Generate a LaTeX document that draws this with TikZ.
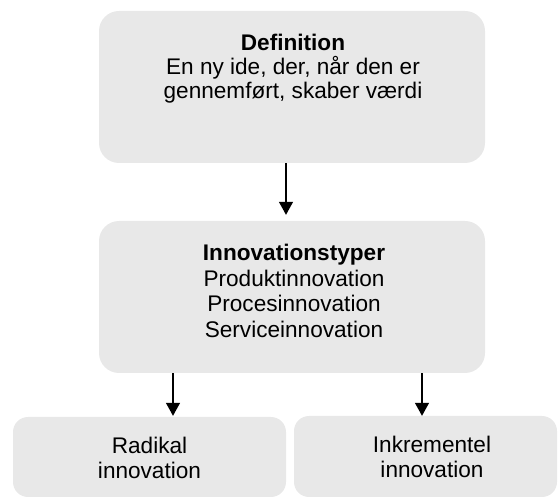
\documentclass[tikz,border=0pt]{standalone}
\usepackage{fontspec}
\setmainfont{Liberation Sans}
\usetikzlibrary{arrows.meta}
\definecolor{boxgray}{HTML}{E8E8E8}
\tikzset{
  panel/.style={fill=boxgray, draw=none, rounded corners=20pt, inner sep=0pt},
  smallpanel/.style={panel, rounded corners=15pt},
  label text/.style={align=center, inner sep=0pt, anchor=north},
  flow/.style={line width=1.3pt, -{Triangle[width=14pt,length=13pt]}}
}
\begin{document}
\begin{tikzpicture}[x=1pt, y=-1pt]
\useasboundingbox (0,0) rectangle (558,497);
\begin{scope}
\clip (0,0) rectangle (558,497);
% boxes
\node[panel, minimum width=386pt, minimum height=152pt] (def) at (292,87) {};
\node[panel, minimum width=386pt, minimum height=152pt] (types) at (292,297) {};
\node[smallpanel, minimum width=273pt, minimum height=80pt] (rad) at (149.5,457) {};
\node[smallpanel, minimum width=263pt, minimum height=81pt] (ink) at (425.5,456.5) {};
\end{scope}
% texts
\node[label text, font=\fontsize{22.6}{24}\selectfont] (deftext) at (293,34)
  {\textbf{Definition}\\En ny ide, der, når den er\\gennemført, skaber værdi};
\node[label text, font=\fontsize{22.6}{25.7}\selectfont] (typestext) at (294,244)
  {\textbf{Innovationstyper}\\Produktinnovation\\Procesinnovation\\Serviceinnovation};
\node[label text, font=\fontsize{22.6}{25}\selectfont] (radtext) at (149.5,437)
  {Radikal\\innovation};
\node[label text, font=\fontsize{22.6}{25}\selectfont] (inktext) at (432,436)
  {Inkrementel\\innovation};
% connectors
\draw[flow, shorten >=6pt] ([xshift=-6pt]def.south) -- ([xshift=-6pt]types.north);
\draw[flow, shorten >=1pt] ([xshift=-119pt]types.south) -- ([xshift=-119pt]types.south |- rad.north);
\draw[flow] ([xshift=130pt]types.south) -- ([xshift=130pt]types.south |- ink.north);
\end{tikzpicture}
\end{document}
